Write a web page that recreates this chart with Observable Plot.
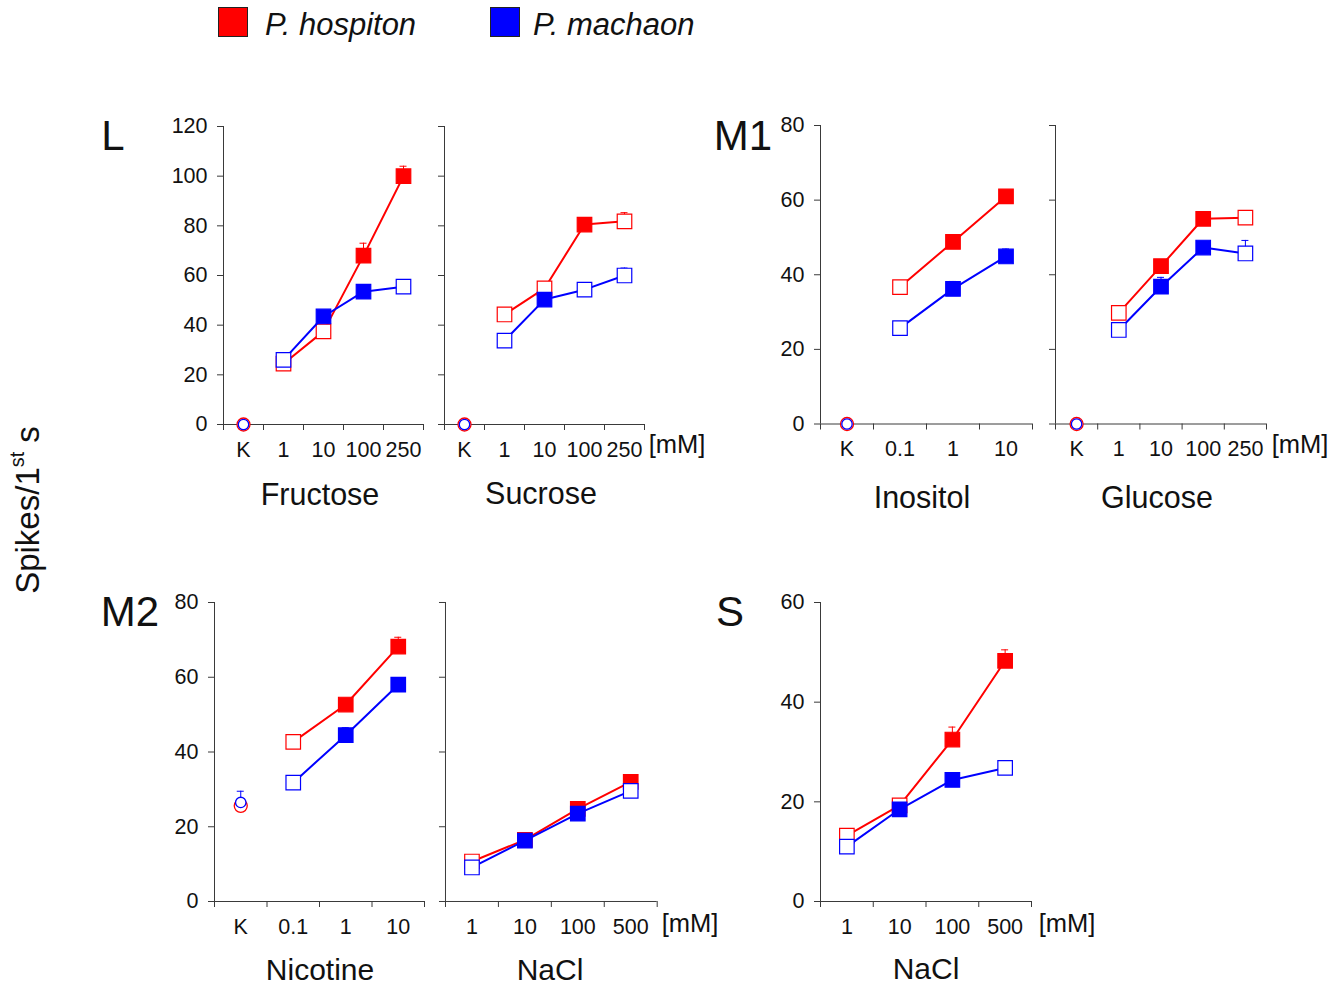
<!DOCTYPE html>
<html>
<head>
<meta charset="utf-8">
<script src="https://cdn.jsdelivr.net/npm/d3@7"></script>
<script src="https://cdn.jsdelivr.net/npm/@observablehq/plot@0.6"></script>
<style>
  html, body { margin: 0; padding: 0; background: #fff; }
  #root { position: relative; width: 1341px; height: 988px; font-family: "Liberation Sans", Arial, sans-serif; color: #111; overflow: hidden; }
  .t { position: absolute; transform: translate(-50%, -50%); white-space: nowrap; line-height: 1; }
  .plot { position: absolute; }
</style>
</head>
<body>
<div id="root"></div>
<script>
// ---------- data ----------
const speciesNames = ["P. hospiton", "P. machaon"];
const speciesColors = ["#ff0000", "#0000ff"];

// kinds: "c" = control (circle), "o" = open square, "f" = filled square
const fructoseCats = ["K", "1", "10", "100", "250"];
const fructoseRed = [0, 24.5, 37.5, 68, 100];
const fructoseRedKind = ["c", "o", "o", "f", "f"];
const fructoseRedErr = [0, 0, 0, 5, 4];
const fructoseBlue = [0, 26, 43.5, 53.5, 55.5];
const fructoseBlueKind = ["c", "o", "f", "f", "o"];
const fructoseBlueErr = [0, 0, 0, 0, 1];

const sucroseCats = ["K", "1", "10", "100", "250"];
const sucroseRed = [0, 44.3, 54.8, 80.5, 81.8];
const sucroseRedKind = ["c", "o", "o", "f", "o"];
const sucroseRedErr = [0, 0, 0, 1, 3.5];
const sucroseBlue = [0, 33.8, 50.3, 54.3, 60];
const sucroseBlueKind = ["c", "o", "f", "o", "o"];
const sucroseBlueErr = [0, 0, 0, 0, 3];

const inositolCats = ["K", "0.1", "1", "10"];
const inositolRed = [0, 36.7, 48.8, 61];
const inositolRedKind = ["c", "o", "f", "f"];
const inositolRedErr = [0, 0, 0, 1.5];
const inositolBlue = [0, 25.7, 36.2, 44.9];
const inositolBlueKind = ["c", "o", "f", "f"];
const inositolBlueErr = [0, 1.2, 2, 2];

const glucoseCats = ["K", "1", "10", "100", "250"];
const glucoseRed = [0, 29.8, 42.3, 55, 55.3];
const glucoseRedKind = ["c", "o", "f", "f", "o"];
const glucoseRedErr = [0, 0, 1.5, 1, 0];
const glucoseBlue = [0, 25.2, 36.8, 47.3, 45.7];
const glucoseBlueKind = ["c", "o", "f", "f", "o"];
const glucoseBlueErr = [0, 0, 2.5, 1.2, 3.5];

const nicotineCats = ["K", "0.1", "1", "10"];
const nicotineRed = [25.6, 42.7, 52.7, 68.2];
const nicotineRedKind = ["c", "o", "f", "f"];
const nicotineRedErr = [0, 0, 1.5, 2.5];
const nicotineBlue = [26.5, 31.8, 44.5, 58];
const nicotineBlueKind = ["c", "o", "f", "f"];
const nicotineBlueErr = [3, 1, 2, 1.8];

const naclM2Cats = ["1", "10", "100", "500"];
const naclM2Red = [10.7, 16.5, 24.8, 32];
const naclM2RedKind = ["o", "f", "f", "f"];
const naclM2RedErr = [0, 0, 0, 0];
const naclM2Blue = [9.1, 16.3, 23.5, 29.6];
const naclM2BlueKind = ["o", "f", "f", "o"];
const naclM2BlueErr = [0, 0, 0, 0];

const naclSCats = ["1", "10", "100", "500"];
const naclSRed = [13.2, 19.3, 32.5, 48.3];
const naclSRedKind = ["o", "o", "f", "f"];
const naclSRedErr = [0, 0, 2.5, 2.2];
const naclSBlue = [11, 18.5, 24.4, 26.8];
const naclSBlueKind = ["o", "f", "f", "o"];
const naclSBlueErr = [0, 0, 0, 1.2];

const ticksL = [0, 20, 40, 60, 80, 100, 120];
const ticksM1 = [0, 20, 40, 60, 80];
const ticksM2 = [0, 20, 40, 60, 80];
const ticksS = [0, 20, 40, 60];

// ---------- drawing ----------
const root = document.getElementById("root");
const FONT = "Liberation Sans, Arial, sans-serif";
const AX = "#3a3a3a";

function addText(html, x, y, size, extra = "") {
  const d = document.createElement("div");
  d.className = "t";
  d.style.left = x + "px";
  d.style.top = y + "px";
  d.style.fontSize = size + "px";
  if (extra) d.style.cssText += extra;
  d.innerHTML = html;
  root.appendChild(d);
  return d;
}

function panel(p) {
  const n = p.cats.length;
  const ml = 70, mr = 12, mt = 12, mb = 45;
  const w = p.w, h = p.bottom - p.top;
  const bandPx = w / n;
  const cap = 3.5 / bandPx;
  const series = [
    {vals: p.red, kind: p.redKind, err: p.redErr, color: speciesColors[0], rc: 6.5},
    {vals: p.blue, kind: p.blueKind, err: p.blueErr, color: speciesColors[1], rc: 5.2}
  ];
  const marks = [
    Plot.ruleY([0], {stroke: AX, strokeWidth: 1}),
    Plot.ruleX([-0.5], {stroke: AX, strokeWidth: 1}),
    Plot.axisY({ticks: p.ticks, tickSize: 6, tickPadding: 10, stroke: AX,
      tickFormat: p.showY ? (d => String(d)) : (() => ""), fontSize: 21.5, label: null}),
    Plot.axisX({ticks: d3.range(n + 1).map(i => i - 0.5), tickSize: 6, stroke: AX,
      tickFormat: () => "", label: null}),
    Plot.axisX({ticks: d3.range(n), tickSize: 0, tickPadding: 17,
      tickFormat: i => p.cats[Math.round(i)], fontSize: 21.5, label: null})
  ];
  for (const s of series) {
    const rows = s.vals.map((v, i) => ({i, v, kind: s.kind[i], err: s.err[i]}));
    const sq = rows.filter(d => d.kind !== "c");
    const ctl = rows.filter(d => d.kind === "c");
    const eb = rows.filter(d => d.err > 0);
    marks.push(
      Plot.line(sq, {x: "i", y: "v", stroke: s.color, strokeWidth: 2}),
      Plot.ruleX(eb, {x: "i", y1: "v", y2: d => d.v + d.err, stroke: s.color, strokeWidth: 1}),
      Plot.ruleY(eb, {x1: d => d.i - cap, x2: d => d.i + cap, y: d => d.v + d.err, stroke: s.color, strokeWidth: 1}),
      Plot.dot(sq, {x: "i", y: "v", symbol: "square", r: 8.2,
        fill: d => d.kind === "f" ? s.color : "white", stroke: s.color, strokeWidth: 1.2}),
      Plot.dot(ctl, {x: "i", y: "v", symbol: "circle", r: s.rc, fill: "white",
        stroke: s.color, strokeWidth: 1.3})
    );
  }
  const chart = Plot.plot({
    width: ml + w + mr,
    height: mt + h + mb,
    marginLeft: ml, marginRight: mr, marginTop: mt, marginBottom: mb,
    x: {type: "linear", domain: [-0.5, n - 0.5], axis: null},
    y: {domain: [0, p.ticks[p.ticks.length - 1]], axis: null},
    style: {fontFamily: FONT, fontSize: "21.5px", color: "#111", background: "transparent", overflow: "visible"},
    marks
  });
  chart.classList.add("plot");
  chart.style.left = (p.left - ml) + "px";
  chart.style.top = (p.top - mt) + "px";
  root.appendChild(chart);
}

panel({cats: fructoseCats, red: fructoseRed, redKind: fructoseRedKind, redErr: fructoseRedErr,
  blue: fructoseBlue, blueKind: fructoseBlueKind, blueErr: fructoseBlueErr,
  ticks: ticksL, showY: true, left: 222.5, w: 200, top: 126, bottom: 424});
panel({cats: sucroseCats, red: sucroseRed, redKind: sucroseRedKind, redErr: sucroseRedErr,
  blue: sucroseBlue, blueKind: sucroseBlueKind, blueErr: sucroseBlueErr,
  ticks: ticksL, showY: false, left: 443.5, w: 200, top: 126, bottom: 424});
panel({cats: inositolCats, red: inositolRed, redKind: inositolRedKind, redErr: inositolRedErr,
  blue: inositolBlue, blueKind: inositolBlueKind, blueErr: inositolBlueErr,
  ticks: ticksM1, showY: true, left: 820, w: 212, top: 125, bottom: 423.5});
panel({cats: glucoseCats, red: glucoseRed, redKind: glucoseRedKind, redErr: glucoseRedErr,
  blue: glucoseBlue, blueKind: glucoseBlueKind, blueErr: glucoseBlueErr,
  ticks: ticksM1, showY: false, left: 1054.5, w: 211, top: 125, bottom: 423.5});
panel({cats: nicotineCats, red: nicotineRed, redKind: nicotineRedKind, redErr: nicotineRedErr,
  blue: nicotineBlue, blueKind: nicotineBlueKind, blueErr: nicotineBlueErr,
  ticks: ticksM2, showY: true, left: 214, w: 210, top: 601.7, bottom: 900.7});
panel({cats: naclM2Cats, red: naclM2Red, redKind: naclM2RedKind, redErr: naclM2RedErr,
  blue: naclM2Blue, blueKind: naclM2BlueKind, blueErr: naclM2BlueErr,
  ticks: ticksM2, showY: false, left: 445, w: 211.7, top: 601.7, bottom: 900.7});
panel({cats: naclSCats, red: naclSRed, redKind: naclSRedKind, redErr: naclSRedErr,
  blue: naclSBlue, blueKind: naclSBlueKind, blueErr: naclSBlueErr,
  ticks: ticksS, showY: true, left: 820, w: 211, top: 601.7, bottom: 900.7});

// panel letters
addText("L", 113, 136, 42);
addText("M1", 743, 136, 42);
addText("M2", 130, 612, 42);
addText("S", 730, 612, 42);

// stimulus names
addText("Fructose", 320, 494, 30.5);
addText("Sucrose", 541, 493, 30.5);
addText("Inositol", 922, 497, 30.5);
addText("Glucose", 1157, 497, 30.5);
addText("Nicotine", 320, 970, 30);
addText("NaCl", 550, 970, 30);
addText("NaCl", 926, 969, 30);

// units
addText("[mM]", 677, 445, 25.5);
addText("[mM]", 1300, 445, 25.5);
addText("[mM]", 690, 924, 25.5);
addText("[mM]", 1067, 924, 25.5);

// y label
addText("Spikes/1<sup style='font-size:0.6em;vertical-align:0.75em'>st</sup> s", 26, 510, 33, "transform: translate(-50%,-50%) rotate(-90deg);");

// legend
const legX = [218, 490];
const legTextX = [265, 533];
speciesNames.forEach((name, k) => {
  const sw = document.createElement("div");
  sw.style.cssText = `position:absolute;left:${legX[k]}px;top:7px;width:28px;height:28px;background:${speciesColors[k]};border:1.5px solid #222;`;
  root.appendChild(sw);
  const t = document.createElement("div");
  t.style.cssText = `position:absolute;left:${legTextX[k]}px;top:9px;font-size:31px;font-style:italic;line-height:1;white-space:nowrap;`;
  t.textContent = name;
  root.appendChild(t);
});
</script>
</body>
</html>
